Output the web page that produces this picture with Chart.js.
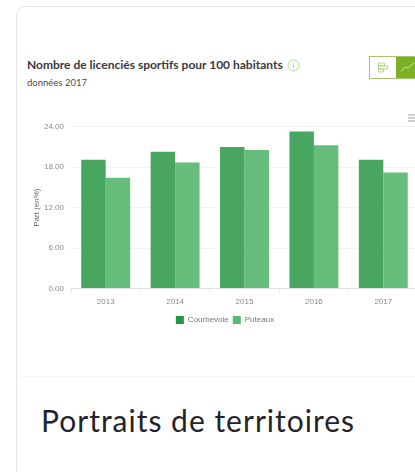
<!DOCTYPE html>
<html>
<head>
<meta charset="utf-8">
<script src="https://cdn.jsdelivr.net/npm/chart.js@4"></script>
<style>
html, body { margin: 0; padding: 0; width: 415px; height: 472px; overflow: hidden; background: #fff; }
body { position: relative; font-family: Lato, sans-serif; color: #2b2b33; }
.card { position: absolute; left: 16px; top: 6px; width: 500px; height: 600px; border: 1px solid #e4e4e4; border-radius: 10px; box-sizing: border-box; }
.sep { position: absolute; left: 18px; right: 0; top: 376px; height: 1px; background: #f6f6f6; }
h1 { position: absolute; left: 27px; top: 57px; margin: 0; font-size: 12px; line-height: 16px; font-weight: 700; color: #3a3a40; white-space: nowrap; }
.sub { position: absolute; left: 27px; top: 76px; font-size: 9.5px; line-height: 14px; color: #4a4a50; }
h2 { position: absolute; left: 41px; top: 401px; margin: 0; font-size: 30px; line-height: 38px; letter-spacing: 1px; font-weight: 400; color: #23232b; white-space: nowrap; }
.info { position: absolute; left: 287px; top: 59px; }
.toggle { position: absolute; left: 369px; top: 56px; width: 60px; height: 23px; border: 1px solid #a5c66e; box-sizing: border-box; background: #fff; }
.toggle i { position: absolute; left: 26px; top: 0; width: 32px; height: 21px; background: #7cb025; }
.toggle svg { position: absolute; }
.burger { position: absolute; left: 408px; top: 114px; }
#wrap { position: absolute; left: 32px; top: 115px; width: 386px; height: 227px; }
</style>
</head>
<body>
<div class="card"></div>
<div class="sep"></div>
<h1>Nombre de licenciés sportifs pour 100 habitants</h1>
<svg class="info" width="13" height="13" viewBox="0 0 13 13"><circle cx="6.5" cy="6.5" r="5.5" fill="none" stroke="#b5d58f" stroke-width="1"/><path d="M6.5 5.5v4M6.5 3.2v1" stroke="#b5d58f" stroke-width="1"/></svg>
<div class="sub">données 2017</div>
<div class="toggle">
  <svg style="left:7px;top:5px" width="13" height="12" viewBox="0 0 13 12"><path d="M1.5 1h6v3h-6zM1.5 4h9v3h-9zM1.5 7h5v3h-5z" fill="none" stroke="#b5d58f" stroke-width="1"/></svg>
  <i></i>
  <svg style="left:30px;top:4px" width="16" height="12" viewBox="0 0 16 12"><path d="M1 10l5-4 2 1 6-5" fill="none" stroke="#cfe3a5" stroke-width="1"/></svg>
</div>
<svg class="burger" width="8" height="8" viewBox="0 0 8 8"><path d="M0 1h8M0 4h8M0 7h8" stroke="#9aa0ad" stroke-width="1.2"/></svg>
<div id="wrap"><canvas id="myChart" width="386" height="227"></canvas></div>
<h2>Portraits de territoires</h2>
<script>
var categories = ["2013", "2014", "2015", "2016", "2017"];
var courbevoie = [19.1, 20.3, 21.0, 23.3, 19.1];
var puteaux = [16.45, 18.7, 20.55, 21.25, 17.2];
var tickLabels = ["0.00", "6.00", "12.00", "18.00", "24.00"];

var grey = "#8a8a8a";
var ctx = document.getElementById("myChart").getContext("2d");
var myChart = new Chart(ctx, {
  type: "bar",
  data: {
    labels: categories,
    datasets: [
      { label: "Courbevoie", data: courbevoie, backgroundColor: "#48a660", hoverBackgroundColor: "#48a660" },
      { label: "Puteaux", data: puteaux, backgroundColor: "#67be7c", hoverBackgroundColor: "#67be7c" }
    ]
  },
  options: {
    responsive: false,
    animation: false,
    layout: { padding: { left: 0, right: 0, top: 0, bottom: 8 } },
    datasets: { bar: { categoryPercentage: 0.705, barPercentage: 1 } },
    scales: {
      x: {
        grid: { display: true, drawOnChartArea: false, color: "#e6e6e6", tickLength: 4 },
        border: { color: "#e0e0e0" },
        ticks: { color: grey, font: { family: "Liberation Sans", size: 8 }, padding: 5, maxRotation: 0 }
      },
      y: {
        min: 0,
        max: 24,
        afterBuildTicks: function(axis) {
          axis.ticks = tickLabels.map(function(t) { return { value: parseFloat(t) }; });
        },
        afterFit: function(axis) { axis.width = 39; },
        grid: { color: "#f3f3f3", drawTicks: false },
        border: { display: false },
        ticks: {
          color: grey,
          font: { family: "Liberation Sans", size: 8 },
          padding: 7,
          callback: function(v) { return v.toFixed(2); }
        },
        title: { display: true, text: "Part (en%)", color: "#666", font: { family: "Liberation Sans", size: 8 }, padding: 0 }
      }
    },
    plugins: {
      tooltip: { enabled: false },
      legend: {
        position: "bottom",
        labels: {
          color: "#777",
          boxWidth: 8,
          boxHeight: 8,
          padding: 4,
          font: { family: "Liberation Sans", size: 8 },
          generateLabels: function() {
            return [
              { text: "Courbevoie", fillStyle: "#259748", strokeStyle: "#259748", lineWidth: 0, fontColor: "#777" },
              { text: "Puteaux", fillStyle: "#58b973", strokeStyle: "#58b973", lineWidth: 0, fontColor: "#777" }
            ];
          }
        }
      }
    }
  }
});
</script>
</body>
</html>
